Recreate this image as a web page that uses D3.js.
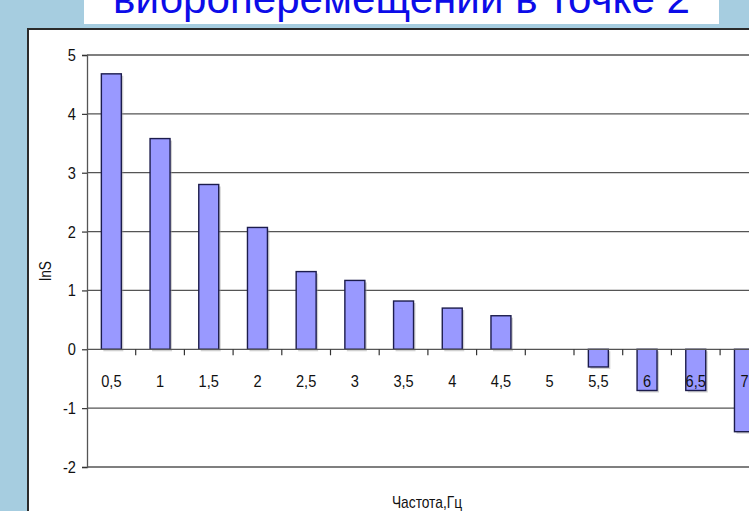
<!DOCTYPE html>
<html>
<head>
<meta charset="utf-8">
<script src="https://cdn.jsdelivr.net/npm/d3@7"></script>
<style>
  html, body { margin: 0; padding: 0; background: #a6cde0; }
  svg { display: block; }
  .lbl { font-family: "Liberation Sans", Arial, sans-serif; fill: #111; }
</style>
</head>
<body>
<svg id="chart" width="749" height="511"></svg>
<script>
// Frequency bins (Hz) and ln of the displacement spectrum at each bin
const categories = ["0,5", "1", "1,5", "2", "2,5", "3", "3,5", "4", "4,5", "5", "5,5", "6", "6,5", "7"];
const lnS = [4.68, 3.58, 2.80, 2.07, 1.32, 1.17, 0.82, 0.70, 0.57, 0, -0.30, -0.70, -0.70, -1.40];
const yTicks = [-2, -1, 0, 1, 2, 3, 4, 5];
const titleText = "виброперемещений в точке 2";
const xTitle = "Частота,Гц";
const yTitle = "lnS";

const svg = d3.select("#chart");
const squeeze = 0.86; // condensed look for the chart's small labels

// slide background
svg.append("rect").attr("width", 749).attr("height", 511).attr("fill", "#a6cde0");

// title banner (only its lower part fits on the slide)
svg.append("rect").attr("x", 84).attr("y", 0).attr("width", 635).attr("height", 24).attr("fill", "#ffffff");
svg.append("text")
  .attr("x", 113).attr("y", 13)
  .attr("textLength", 577).attr("lengthAdjust", "spacingAndGlyphs")
  .style("font-family", "'Liberation Sans', Arial, sans-serif")
  .style("font-size", "42px")
  .attr("fill", "#0c0ce8")
  .text(titleText);

// chart frame
svg.append("rect")
  .attr("x", 28).attr("y", 29).attr("width", 760).attr("height", 520)
  .attr("fill", "#ffffff").attr("stroke", "#2b2b2b").attr("stroke-width", 2);

// plot geometry
const plotLeft = 87, plotTop = 55, plotBottom = 467, plotRight = 760, step = 48.7;
const x = d3.scaleBand()
  .domain(categories)
  .range([plotLeft, plotLeft + step * categories.length])
  .paddingInner(0.59)
  .paddingOuter(0.295);
const y = d3.scaleLinear().domain([-2, 5]).range([plotBottom, plotTop]);

// horizontal gridlines
svg.append("g").selectAll("line")
  .data(yTicks.filter(d => d !== 0))
  .join("line")
  .attr("x1", plotLeft).attr("x2", plotRight)
  .attr("y1", d => y(d)).attr("y2", d => y(d))
  .attr("stroke", "#555").attr("stroke-width", 1.3);

// y axis
const yAxis = svg.append("g")
  .attr("transform", `translate(${plotLeft},0)`)
  .call(d3.axisLeft(y).tickValues(yTicks).tickSize(5).tickPadding(6).tickFormat(d3.format("d")));
yAxis.attr("font-family", null).attr("font-size", null);
yAxis.select(".domain").attr("stroke", "#555").attr("stroke-width", 1.3);
yAxis.selectAll(".tick line").attr("stroke", "#333").attr("stroke-width", 1.2);
yAxis.selectAll(".tick text")
  .attr("class", "lbl")
  .attr("fill", null)
  .attr("x", 0)
  .attr("transform", `translate(-11,0) scale(${squeeze},1)`)
  .style("font-size", "17px")
  .text(d => d < 0 ? "-" + Math.abs(d) : d);

// bars with a soft drop shadow
const barData = lnS.map((v, i) => ({ c: categories[i], v })).filter(d => d.v !== 0);
const bars = svg.append("g");
bars.selectAll("rect.shadow")
  .data(barData)
  .join("rect")
  .attr("class", "shadow")
  .attr("x", d => x(d.c) + 2)
  .attr("y", d => Math.min(y(d.v), y(0)) + 2)
  .attr("width", x.bandwidth())
  .attr("height", d => Math.abs(y(d.v) - y(0)))
  .attr("fill", "#9a9a9a").attr("opacity", 0.45);
bars.selectAll("rect.bar")
  .data(barData)
  .join("rect")
  .attr("class", "bar")
  .attr("x", d => x(d.c))
  .attr("y", d => Math.min(y(d.v), y(0)))
  .attr("width", x.bandwidth())
  .attr("height", d => Math.abs(y(d.v) - y(0)))
  .attr("fill", "#9999ff").attr("stroke", "#1c1c4c").attr("stroke-width", 1.4);

// category axis at zero with tick marks between categories
svg.append("line")
  .attr("x1", plotLeft).attr("x2", plotRight)
  .attr("y1", y(0)).attr("y2", y(0))
  .attr("stroke", "#555").attr("stroke-width", 1.3);
svg.append("g").selectAll("line")
  .data(categories.slice(1))
  .join("line")
  .attr("x1", d => x(d) - x.step() * 0.295).attr("x2", d => x(d) - x.step() * 0.295)
  .attr("y1", y(0)).attr("y2", y(0) + 6)
  .attr("stroke", "#333").attr("stroke-width", 1.2);
svg.append("g").selectAll("text")
  .data(categories)
  .join("text")
  .attr("class", "lbl")
  .attr("transform", d => `translate(${x(d) + x.bandwidth() / 2},${y(0) + 38}) scale(${squeeze},1)`)
  .attr("text-anchor", "middle")
  .style("font-size", "17px")
  .text(d => d);

// axis titles
svg.append("text")
  .attr("class", "lbl")
  .attr("transform", `translate(51,271) rotate(-90) scale(${squeeze},1)`)
  .attr("text-anchor", "middle")
  .style("font-size", "16px")
  .text(yTitle);
svg.append("text")
  .attr("class", "lbl")
  .attr("transform", `translate(427,508) scale(${squeeze},1)`)
  .attr("text-anchor", "middle")
  .style("font-size", "16px")
  .text(xTitle);
</script>
</body>
</html>
